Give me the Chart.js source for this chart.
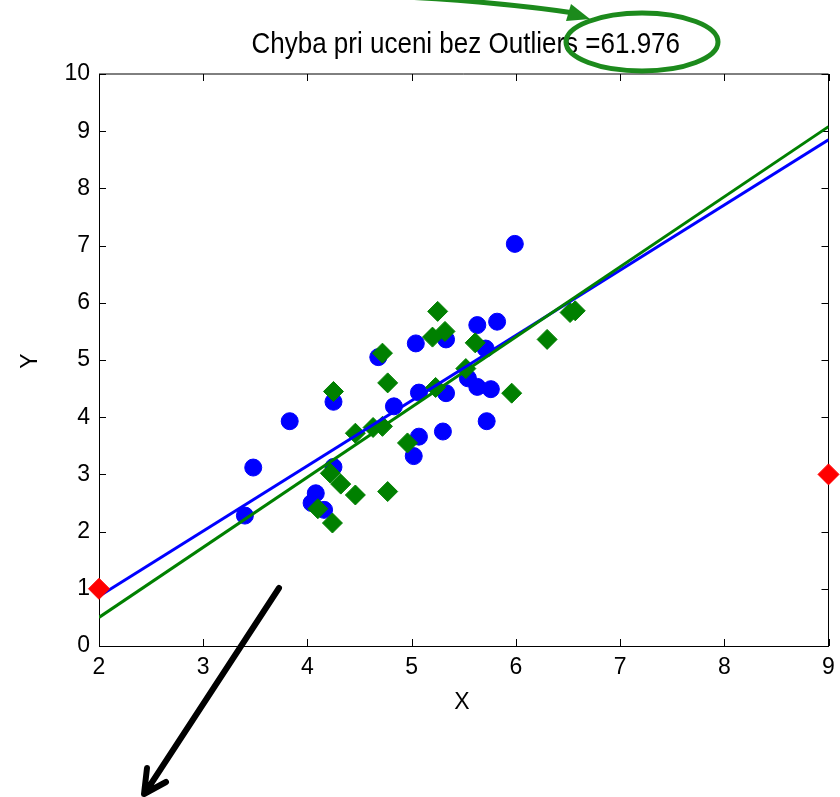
<!DOCTYPE html>
<html>
<head>
<meta charset="utf-8">
<script src="https://cdn.jsdelivr.net/npm/chart.js@4/dist/chart.umd.min.js"></script>
<style>
  body { margin: 0; background: #fff; }
  canvas { display: block; }
</style>
</head>
<body>
<canvas id="fitChart" width="840" height="797"></canvas>
<script>
const xTicks = [2, 3, 4, 5, 6, 7, 8, 9];
const yTicks = [0, 1, 2, 3, 4, 5, 6, 7, 8, 9, 10];

/* data with outliers (blue) */
const blueX = [3.40, 3.48, 3.83, 4.04, 4.08, 4.16, 4.25, 4.25, 4.68, 4.83, 5.02, 5.04, 5.07,
  5.07, 5.30, 5.33, 5.33, 5.54, 5.63, 5.63, 5.71, 5.72, 5.76, 5.82, 5.99];
const blueY = [2.28, 3.12, 3.93, 2.50, 2.67, 2.38, 3.13, 4.27, 5.05, 4.19, 3.32, 5.29, 4.43,
  3.66, 3.75, 4.42, 5.36, 4.68, 5.61, 4.53, 5.20, 3.93, 4.49, 5.67, 7.03];

/* data without outliers (green) */
const greenX = [4.10, 4.22, 4.32, 4.24, 4.25, 4.46, 4.46, 4.63, 4.72, 4.72, 4.77, 4.77,
  4.96, 5.20, 5.23, 5.25, 5.32, 5.52, 5.61, 5.96, 6.30, 6.52, 6.57];
const greenY = [2.40, 3.02, 2.83, 2.15, 4.45, 2.64, 3.72, 3.82, 3.84, 5.12, 4.60, 2.70,
  3.55, 5.40, 4.52, 5.85, 5.50, 4.85, 5.30, 4.42, 5.36, 5.83, 5.86];

/* outliers */
const outlierX = [2, 9];
const outlierY = [1, 3];

/* fitted lines */
const lineX = [2, 9];
const blueLineY = [0.87, 8.85];
const greenLineY = [0.50, 9.08];

const toPoints = (xs, ys) => xs.map((v, i) => ({ x: v, y: ys[i] }));

const font = '"Liberation Sans", Arial, sans-serif';
const green = '#008000';
const noteGreen = '#1c8a1c';

const matlabFrame = {
  id: 'matlabFrame',
  beforeDatasetsDraw(chart) {
    const { ctx, chartArea: a, scales: { x, y } } = chart;
    ctx.save();
    ctx.strokeStyle = '#000';
    ctx.lineWidth = 1;
    ctx.beginPath();
    ctx.moveTo(a.left, a.top);
    ctx.lineTo(a.right, a.top);
    ctx.lineTo(a.right, a.bottom);
    xTicks.forEach(v => {
      const px = Math.round(x.getPixelForValue(v)) + 0.5;
      ctx.moveTo(px, a.bottom); ctx.lineTo(px, a.bottom - 7);
      ctx.moveTo(px, a.top); ctx.lineTo(px, a.top + 7);
    });
    yTicks.forEach(v => {
      const py = Math.round(y.getPixelForValue(v)) + 0.5;
      ctx.moveTo(a.left, py); ctx.lineTo(a.left + 7, py);
      ctx.moveTo(a.right, py); ctx.lineTo(a.right - 7, py);
    });
    ctx.stroke();
    ctx.restore();
  },
  afterDraw(chart) {
    const { ctx, chartArea: a } = chart;
    ctx.save();
    // title (slightly tall, like the original figure) and axis labels
    ctx.fillStyle = '#000';
    ctx.textAlign = 'center';
    ctx.textBaseline = 'alphabetic';
    ctx.font = '26px ' + font;
    ctx.save();
    ctx.translate((a.left + a.right) / 2 + 2, 53);
    ctx.scale(1, 1.15);
    ctx.fillText('Chyba pri uceni bez Outliers =61.976', 0, 0);
    ctx.restore();
    ctx.font = '23px ' + font;
    ctx.textBaseline = 'middle';
    ctx.fillText('X', 462, 703);
    ctx.translate(31, 361);
    ctx.rotate(-Math.PI / 2);
    ctx.fillText('Y', 0, 0);
    ctx.restore();

    // green ellipse and arrow
    ctx.save();
    ctx.strokeStyle = noteGreen;
    ctx.fillStyle = noteGreen;
    ctx.lineWidth = 5;
    ctx.beginPath();
    ctx.ellipse(642, 42, 76, 29, 0, 0, Math.PI * 2);
    ctx.stroke();
    ctx.beginPath();
    ctx.moveTo(405, -3);
    ctx.quadraticCurveTo(500, 2, 574, 13);
    ctx.stroke();
    ctx.beginPath();
    ctx.moveTo(590, 19);
    ctx.lineTo(571, 4);
    ctx.lineTo(566, 21);
    ctx.closePath();
    ctx.fill();

    // black arrow
    ctx.strokeStyle = '#000';
    ctx.lineWidth = 6;
    ctx.lineCap = 'round';
    ctx.lineJoin = 'round';
    ctx.beginPath();
    ctx.moveTo(279, 588);
    ctx.lineTo(145, 793);
    ctx.moveTo(147, 768);
    ctx.lineTo(144, 794);
    ctx.lineTo(166, 782);
    ctx.stroke();
    ctx.restore();
  }
};

new Chart(document.getElementById('fitChart'), {
  type: 'scatter',
  data: {
    datasets: [
      {
        data: toPoints(outlierX, outlierY),
        pointStyle: 'rectRot', pointRadius: 10.5, borderWidth: 1,
        backgroundColor: '#ff0000', borderColor: '#ff0000',
        clip: false, order: 0
      },
      {
        data: toPoints(lineX, greenLineY), showLine: true, pointRadius: 0,
        borderColor: green, borderWidth: 3, order: 1
      },
      {
        data: toPoints(lineX, blueLineY), showLine: true, pointRadius: 0,
        borderColor: '#0000ff', borderWidth: 3, order: 2
      },
      {
        data: toPoints(greenX, greenY),
        pointStyle: 'rectRot', pointRadius: 10, borderWidth: 1,
        backgroundColor: green, borderColor: green, order: 3
      },
      {
        data: toPoints(blueX, blueY),
        pointStyle: 'circle', pointRadius: 8.5, borderWidth: 1,
        backgroundColor: '#0000ff', borderColor: '#0000ff', order: 4
      }
    ]
  },
  options: {
    responsive: false,
    animation: false,
    devicePixelRatio: 1,
    layout: { padding: { top: 74, right: 0, left: 0, bottom: 0 } },
    plugins: {
      legend: { display: false },
      tooltip: { enabled: false }
    },
    scales: {
      x: {
        type: 'linear', min: 2, max: 9,
        afterFit: s => { s.height = 151; s.paddingLeft = 0; s.paddingRight = 10; },
        ticks: { stepSize: 1, padding: 8, color: '#000', font: { size: 23, family: font } },
        grid: { drawOnChartArea: false, drawTicks: false },
        border: { color: '#000', width: 1 }
      },
      y: {
        type: 'linear', min: 0, max: 10,
        afterFit: s => { s.width = 99; s.paddingTop = 0; s.paddingBottom = 0; },
        ticks: { stepSize: 1, padding: 9, color: '#000', font: { size: 23, family: font } },
        grid: { drawOnChartArea: false, drawTicks: false },
        border: { color: '#000', width: 1 }
      }
    }
  },
  plugins: [matlabFrame]
});
</script>
</body>
</html>
